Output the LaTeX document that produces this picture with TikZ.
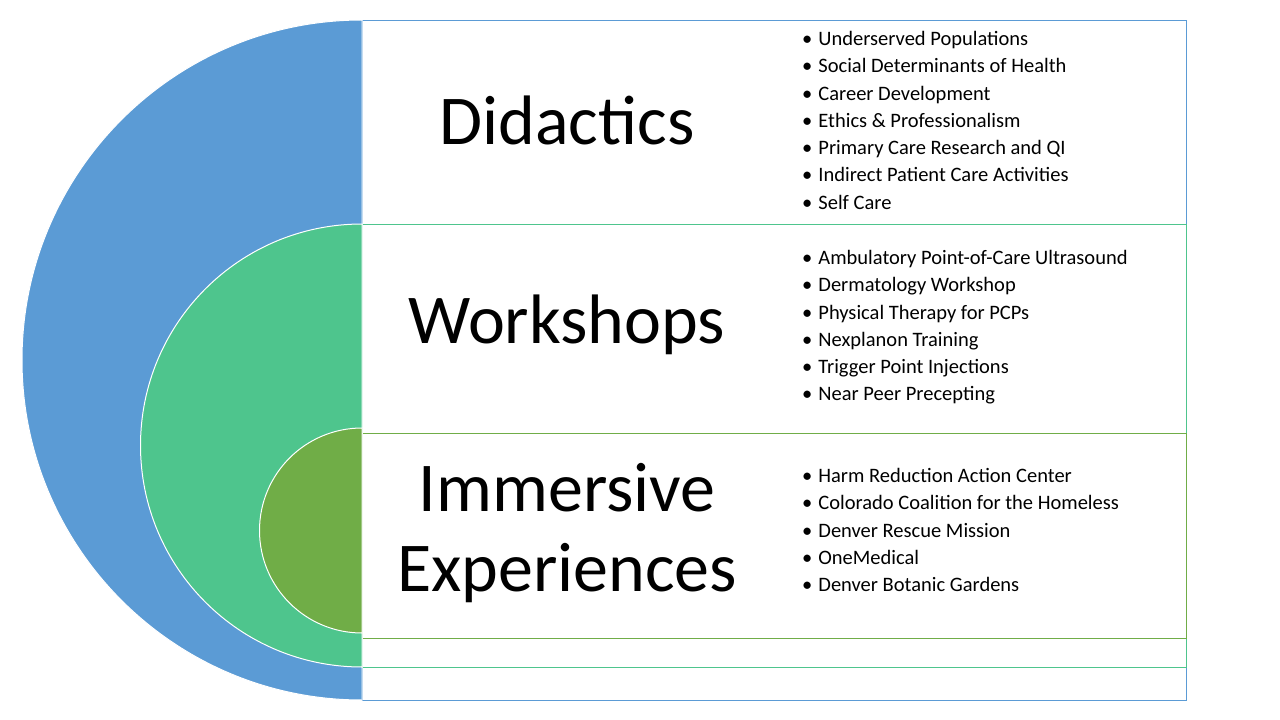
\documentclass[tikz,border=0pt]{standalone}
\usepackage{fontspec}
\setmainfont{Carlito}
\definecolor{cblue}{HTML}{5B9BD5}
\definecolor{cgreen}{HTML}{4EC58D}
\definecolor{cdark}{HTML}{70AD47}
\begin{document}
\begin{tikzpicture}[x=1pt,y=-1pt,
  title/.style={font=\fontsize{70}{80}\selectfont,align=center,anchor=center},
  item/.style={font=\fontsize{20.5}{27.3}\selectfont,anchor=north west,align=left,inner sep=0},
  semi/.style={draw=white,line width=1pt}]
\useasboundingbox (0,0) rectangle (1280,720);
\fill[white] (0,0) rectangle (1280,720);
\draw[cblue] (362,20) rectangle (1186,700);
\draw[cgreen] (362,224) rectangle (1186,667);
\draw[cdark] (362,433) rectangle (1186,638);
\path[semi,fill=cblue] (362,20) arc[start angle=270,end angle=90,radius=340] -- cycle;
\path[semi,fill=cgreen] (362,224) arc[start angle=270,end angle=90,radius=221.5] -- cycle;
\path[semi,fill=cdark] (362,428) arc[start angle=270,end angle=90,radius=102.5] -- cycle;
\node[title] (t1) at (567,120) {Didactics};
\node[title] (t2) at (567,325) {Workshops};
\node[title] (t3) at (567,533) {Immersive\\Experiences};
\node[item] (l1) at (802,31) {\textbullet\hspace{6pt}Underserved Populations\\\textbullet\hspace{6pt}Social Determinants of Health\\\textbullet\hspace{6pt}Career Development\\\textbullet\hspace{6pt}Ethics \& Professionalism\\\textbullet\hspace{6pt}Primary Care Research and QI\\\textbullet\hspace{6pt}Indirect Patient Care Activities\\\textbullet\hspace{6pt}Self Care};
\node[item] (l2) at (802,250) {\textbullet\hspace{6pt}Ambulatory Point-of-Care Ultrasound\\\textbullet\hspace{6pt}Dermatology Workshop\\\textbullet\hspace{6pt}Physical Therapy for PCPs\\\textbullet\hspace{6pt}Nexplanon Training\\\textbullet\hspace{6pt}Trigger Point Injections\\\textbullet\hspace{6pt}Near Peer Precepting};
\node[item] (l3) at (802,468) {\textbullet\hspace{6pt}Harm Reduction Action Center\\\textbullet\hspace{6pt}Colorado Coalition for the Homeless\\\textbullet\hspace{6pt}Denver Rescue Mission\\\textbullet\hspace{6pt}OneMedical\\\textbullet\hspace{6pt}Denver Botanic Gardens};
\end{tikzpicture}
\end{document}
